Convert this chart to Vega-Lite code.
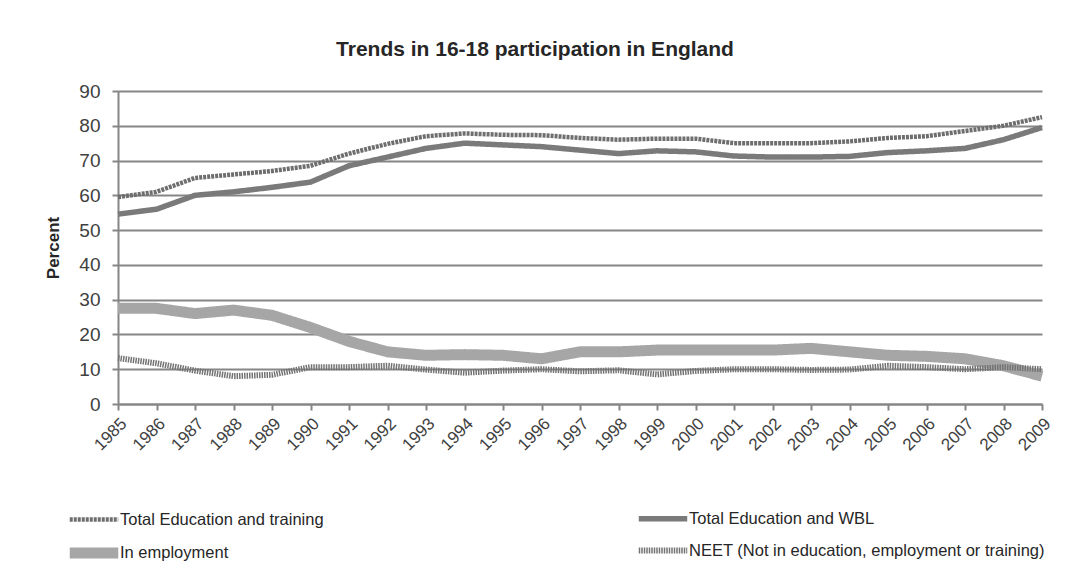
{
  "$schema": "https://vega.github.io/schema/vega-lite/v6.json",
  "autosize": "none",
  "width": 924,
  "height": 313,
  "padding": {"left": 118, "top": 91, "right": 28, "bottom": 172},
  "background": "white",
  "title": {
    "text": "Trends in 16-18 participation in England",
    "font": "Liberation Sans",
    "fontSize": 21,
    "fontWeight": "bold",
    "color": "#262626",
    "offset": 22,
    "anchor": "middle",
    "dx": -45
  },
  "config": {
    "view": {"stroke": null},
    "font": "Liberation Sans",
    "legend": {
      "title": null,
      "orient": "none",
      "legendX": -47,
      "legendY": 407,
      "direction": "horizontal",
      "columns": 2,
      "symbolType": "M-1.4,0H1.4",
      "symbolSize": 1200,
      "labelFontSize": 16.5,
      "labelColor": "#262626",
      "labelOffset": 3,
      "rowPadding": 0,
      "columnPadding": 302,
      "labelLimit": 500
    }
  },
  "data": {
    "values": [
      {"year": "1985", "series": "Total Education and training", "value": 59.5},
      {"year": "1986", "series": "Total Education and training", "value": 61},
      {"year": "1987", "series": "Total Education and training", "value": 65},
      {"year": "1988", "series": "Total Education and training", "value": 66},
      {"year": "1989", "series": "Total Education and training", "value": 67},
      {"year": "1990", "series": "Total Education and training", "value": 68.5},
      {"year": "1991", "series": "Total Education and training", "value": 72},
      {"year": "1992", "series": "Total Education and training", "value": 74.8},
      {"year": "1993", "series": "Total Education and training", "value": 77},
      {"year": "1994", "series": "Total Education and training", "value": 77.8},
      {"year": "1995", "series": "Total Education and training", "value": 77.4},
      {"year": "1996", "series": "Total Education and training", "value": 77.3},
      {"year": "1997", "series": "Total Education and training", "value": 76.5},
      {"year": "1998", "series": "Total Education and training", "value": 76},
      {"year": "1999", "series": "Total Education and training", "value": 76.3},
      {"year": "2000", "series": "Total Education and training", "value": 76.3},
      {"year": "2001", "series": "Total Education and training", "value": 75},
      {"year": "2002", "series": "Total Education and training", "value": 75},
      {"year": "2003", "series": "Total Education and training", "value": 75},
      {"year": "2004", "series": "Total Education and training", "value": 75.5},
      {"year": "2005", "series": "Total Education and training", "value": 76.5},
      {"year": "2006", "series": "Total Education and training", "value": 77},
      {"year": "2007", "series": "Total Education and training", "value": 78.5},
      {"year": "2008", "series": "Total Education and training", "value": 80},
      {"year": "2009", "series": "Total Education and training", "value": 82.5},
      {"year": "1985", "series": "Total Education and WBL", "value": 54.6},
      {"year": "1986", "series": "Total Education and WBL", "value": 56},
      {"year": "1987", "series": "Total Education and WBL", "value": 60},
      {"year": "1988", "series": "Total Education and WBL", "value": 61},
      {"year": "1989", "series": "Total Education and WBL", "value": 62.3},
      {"year": "1990", "series": "Total Education and WBL", "value": 63.8},
      {"year": "1991", "series": "Total Education and WBL", "value": 68.5},
      {"year": "1992", "series": "Total Education and WBL", "value": 71},
      {"year": "1993", "series": "Total Education and WBL", "value": 73.5},
      {"year": "1994", "series": "Total Education and WBL", "value": 75},
      {"year": "1995", "series": "Total Education and WBL", "value": 74.5},
      {"year": "1996", "series": "Total Education and WBL", "value": 74},
      {"year": "1997", "series": "Total Education and WBL", "value": 73},
      {"year": "1998", "series": "Total Education and WBL", "value": 72},
      {"year": "1999", "series": "Total Education and WBL", "value": 72.8},
      {"year": "2000", "series": "Total Education and WBL", "value": 72.5},
      {"year": "2001", "series": "Total Education and WBL", "value": 71.3},
      {"year": "2002", "series": "Total Education and WBL", "value": 71},
      {"year": "2003", "series": "Total Education and WBL", "value": 71},
      {"year": "2004", "series": "Total Education and WBL", "value": 71.2},
      {"year": "2005", "series": "Total Education and WBL", "value": 72.3},
      {"year": "2006", "series": "Total Education and WBL", "value": 72.8},
      {"year": "2007", "series": "Total Education and WBL", "value": 73.5},
      {"year": "2008", "series": "Total Education and WBL", "value": 76},
      {"year": "2009", "series": "Total Education and WBL", "value": 79.5},
      {"year": "1985", "series": "In employment", "value": 27.5},
      {"year": "1986", "series": "In employment", "value": 27.5},
      {"year": "1987", "series": "In employment", "value": 26},
      {"year": "1988", "series": "In employment", "value": 27},
      {"year": "1989", "series": "In employment", "value": 25.5},
      {"year": "1990", "series": "In employment", "value": 22},
      {"year": "1991", "series": "In employment", "value": 18},
      {"year": "1992", "series": "In employment", "value": 15},
      {"year": "1993", "series": "In employment", "value": 14},
      {"year": "1994", "series": "In employment", "value": 14.2},
      {"year": "1995", "series": "In employment", "value": 14},
      {"year": "1996", "series": "In employment", "value": 13},
      {"year": "1997", "series": "In employment", "value": 15},
      {"year": "1998", "series": "In employment", "value": 15},
      {"year": "1999", "series": "In employment", "value": 15.5},
      {"year": "2000", "series": "In employment", "value": 15.5},
      {"year": "2001", "series": "In employment", "value": 15.5},
      {"year": "2002", "series": "In employment", "value": 15.5},
      {"year": "2003", "series": "In employment", "value": 16},
      {"year": "2004", "series": "In employment", "value": 15},
      {"year": "2005", "series": "In employment", "value": 14},
      {"year": "2006", "series": "In employment", "value": 13.7},
      {"year": "2007", "series": "In employment", "value": 13},
      {"year": "2008", "series": "In employment", "value": 11},
      {"year": "2009", "series": "In employment", "value": 8},
      {"year": "1985", "series": "NEET (Not in education, employment or training)", "value": 13.2},
      {"year": "1986", "series": "NEET (Not in education, employment or training)", "value": 11.7},
      {"year": "1987", "series": "NEET (Not in education, employment or training)", "value": 9.6},
      {"year": "1988", "series": "NEET (Not in education, employment or training)", "value": 8},
      {"year": "1989", "series": "NEET (Not in education, employment or training)", "value": 8.4},
      {"year": "1990", "series": "NEET (Not in education, employment or training)", "value": 10.6},
      {"year": "1991", "series": "NEET (Not in education, employment or training)", "value": 10.6},
      {"year": "1992", "series": "NEET (Not in education, employment or training)", "value": 11},
      {"year": "1993", "series": "NEET (Not in education, employment or training)", "value": 9.9},
      {"year": "1994", "series": "NEET (Not in education, employment or training)", "value": 9},
      {"year": "1995", "series": "NEET (Not in education, employment or training)", "value": 9.6},
      {"year": "1996", "series": "NEET (Not in education, employment or training)", "value": 10},
      {"year": "1997", "series": "NEET (Not in education, employment or training)", "value": 9.4},
      {"year": "1998", "series": "NEET (Not in education, employment or training)", "value": 9.7},
      {"year": "1999", "series": "NEET (Not in education, employment or training)", "value": 8.5},
      {"year": "2000", "series": "NEET (Not in education, employment or training)", "value": 9.5},
      {"year": "2001", "series": "NEET (Not in education, employment or training)", "value": 10},
      {"year": "2002", "series": "NEET (Not in education, employment or training)", "value": 10},
      {"year": "2003", "series": "NEET (Not in education, employment or training)", "value": 9.8},
      {"year": "2004", "series": "NEET (Not in education, employment or training)", "value": 9.9},
      {"year": "2005", "series": "NEET (Not in education, employment or training)", "value": 11},
      {"year": "2006", "series": "NEET (Not in education, employment or training)", "value": 10.6},
      {"year": "2007", "series": "NEET (Not in education, employment or training)", "value": 10},
      {"year": "2008", "series": "NEET (Not in education, employment or training)", "value": 10.6},
      {"year": "2009", "series": "NEET (Not in education, employment or training)", "value": 10}
    ]
  },
  "mark": {"type": "line", "strokeCap": "butt", "strokeJoin": "round"},
  "encoding": {
    "x": {
      "field": "year",
      "type": "ordinal",
      "scale": {"type": "point", "padding": 0},
      "axis": {
        "title": null,
        "labelAngle": -45,
        "labelFontSize": 17,
        "labelColor": "#404040",
        "labelFont": "Liberation Sans",
        "labelPadding": 5,
        "domainColor": "#868686",
        "domainWidth": 2,
        "tickColor": "#868686",
        "tickWidth": 2,
        "tickSize": 6,
        "grid": false
      }
    },
    "y": {
      "field": "value",
      "type": "quantitative",
      "scale": {"domain": [0, 90], "nice": false},
      "axis": {
        "title": "Percent",
        "titleFontSize": 17,
        "titleFontWeight": "bold",
        "titleColor": "#262626",
        "titlePadding": 16,
        "values": [0, 10, 20, 30, 40, 50, 60, 70, 80, 90],
        "labelFontSize": 19,
        "labelColor": "#404040",
        "labelPadding": 12,
        "domainColor": "#868686",
        "domainWidth": 2,
        "tickColor": "#868686",
        "tickWidth": 2,
        "tickSize": 6,
        "grid": true,
        "gridColor": "#868686",
        "gridWidth": 2
      }
    },
    "color": {
      "field": "series",
      "type": "nominal",
      "sort": null,
      "scale": {
        "domain": ["Total Education and training", "Total Education and WBL", "In employment", "NEET (Not in education, employment or training)"],
        "range": ["#6e6e6e", "#7a7a7a", "#a6a6a6", "#737373"]
      }
    },
    "strokeWidth": {
      "field": "series",
      "type": "nominal",
      "sort": null,
      "scale": {
        "type": "ordinal",
        "domain": ["Total Education and training", "Total Education and WBL", "In employment", "NEET (Not in education, employment or training)"],
        "range": [4.5, 5.5, 11, 6]
      }
    },
    "strokeDash": {
      "field": "series",
      "type": "nominal",
      "sort": null,
      "scale": {
        "domain": ["Total Education and training", "Total Education and WBL", "In employment", "NEET (Not in education, employment or training)"],
        "range": [[3, 1], [1, 0], [1, 0], [1.5, 1]]
      }
    }
  }
}
